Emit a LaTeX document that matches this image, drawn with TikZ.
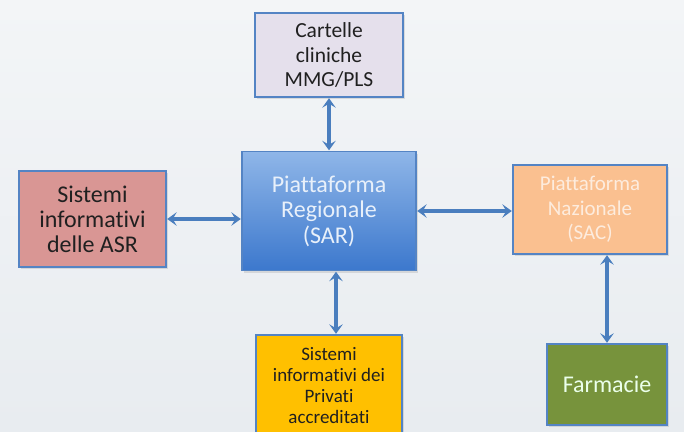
\documentclass[tikz,border=0pt]{standalone}
\usepackage{fontspec}
\setmainfont{Carlito}[Ligatures={NoCommon}]
\usetikzlibrary{arrows.meta,shadows,calc}

\definecolor{bgtop}{RGB}{243,245,247}
\definecolor{bgbot}{RGB}{232,236,240}
\definecolor{edgeblue}{RGB}{84,132,196}
\definecolor{linkblue}{RGB}{74,126,190}
\definecolor{lavender}{RGB}{229,224,236}
\definecolor{rosebox}{RGB}{217,150,148}
\definecolor{peachbox}{RGB}{250,192,144}
\definecolor{goldbox}{RGB}{255,192,0}
\definecolor{olivebox}{RGB}{119,147,60}
\definecolor{sartop}{RGB}{143,182,232}
\definecolor{sarbot}{RGB}{60,120,205}
\definecolor{darktext}{RGB}{32,32,32}
\definecolor{creamtext}{RGB}{253,236,222}
\definecolor{paletext}{RGB}{232,240,250}

\tikzset{
  box/.style={draw=edgeblue, line width=1.2pt, rectangle, align=center,
    inner sep=2pt, text=darktext,
    drop shadow={shadow xshift=2pt, shadow yshift=-2pt, opacity=0.22},
    font=\fontsize{21.5}{24.5}\selectfont},
  linktip/.tip={Stealth[length=9.5pt,width=13.5pt,inset=4pt]},
  link/.style={draw=linkblue, line width=3.2pt, {linktip}-{linktip},
    shorten <=0.6pt, shorten >=0.6pt}
}

\begin{document}
\begin{tikzpicture}[x=1pt,y=-1pt]
  % page and background
  \useasboundingbox (0,0) rectangle (684,431);
  \clip (0,0) rectangle (684,431);
  \shade[top color=bgtop, bottom color=bgbot] (0,0) rectangle (684,431);

  % boxes
  \node[box, fill=lavender, minimum width=148pt, minimum height=84pt]
    (cart) at (329,55) {Cartelle\\cliniche\\MMG/PLS};
  \node[box, top color=sartop, bottom color=sarbot, text=paletext,
    minimum width=174pt, minimum height=119pt,
    font=\fontsize{24}{25.5}\selectfont]
    (sar) at (329,211) {Piattaforma\\Regionale\\(SAR)};
  \node[box, fill=rosebox, minimum width=147pt, minimum height=96pt,
    font=\fontsize{24}{25}\selectfont]
    (asr) at (92.5,219) {Sistemi\\informativi\\delle ASR};
  \node[box, fill=peachbox, text=creamtext, minimum width=154pt, minimum height=89pt,
    font=\fontsize{21}{24.3}\selectfont]
    (sac) at (590,209.5) {Piattaforma\\Nazionale\\(SAC)};
  \node[box, fill=goldbox, minimum width=146pt, minimum height=102pt,
    font=\fontsize{19}{21}\selectfont]
    (priv) at (329,386) {Sistemi\\informativi dei\\Privati\\accreditati};
  \node[box, fill=olivebox, text=white!92!green, minimum width=120pt, minimum height=81pt,
    font=\fontsize{24}{28}\selectfont]
    (farm) at (607,384.5) {Farmacie};

  % connectors
  \draw[link] (cart.south) -- (sar.north);
  \draw[link] (asr.east) -- (asr.east -| sar.west);
  \draw[link] (sar.east) -- (sar.east -| sac.west);
  \draw[link] ([xshift=7pt]sar.south) -- ([xshift=7pt]priv.north);
  \draw[link] (farm.north |- sac.south) -- (farm.north);
\end{tikzpicture}
\end{document}
